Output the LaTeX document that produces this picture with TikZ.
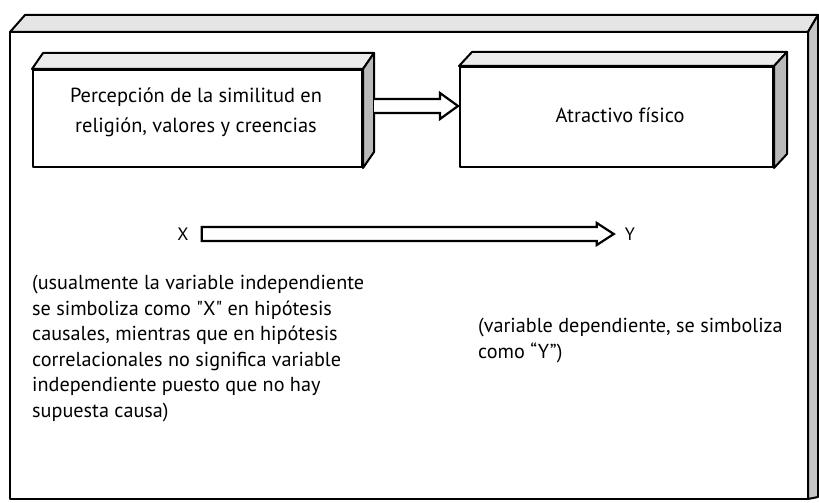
\documentclass[tikz,border=0pt]{standalone}
\usepackage{fontspec}
\setmainfont{PT Sans}
\usetikzlibrary{calc}
\tikzset{
  edge/.style={line width=2pt, line join=round},
  topface/.style={edge, draw, fill=gray!15},
  sideface/.style={edge, draw, fill=gray!55},
  frontbox/.style={edge, draw, fill=white, rectangle, inner sep=0pt},
  boxtext/.style={font=\fontsize{20.4}{30}\selectfont, align=center, inner sep=0pt},
  hollow/.style={line width=2.2pt, line join=miter, fill=white},
  lbl/.style={font=\fontsize{18}{20}\selectfont, inner sep=0pt},
  para/.style={font=\fontsize{20.2}{25.6}\selectfont, align=left, anchor=north west, inner sep=0pt},
}
\begin{document}
\begin{tikzpicture}[x=1pt,y=-1pt]
\useasboundingbox (0,0) rectangle (819,503);
% outer frame
\coordinate (ftl) at (10,32);
\coordinate (ftr) at (808,32);
\coordinate (fbr) at (808,499);
\coordinate (fbl) at (10,499);
\draw[topface, fill=gray!20] (ftl) -- (25,15) -- (818,15) -- (ftr) -- cycle;
\draw[sideface, fill=gray!45] (ftr) -- (818,15) -- (818,497) -- (fbr) -- cycle;
\draw[edge] (ftl) rectangle (fbr);
% box A
\node[frontbox, minimum width=329pt, minimum height=97pt] (A) at (197.5,118.5) {};
\draw[topface] (A.north west) -- ++(11,-16) -- ($(A.north east)+(11,-16)$) -- (A.north east) -- cycle;
\draw[sideface] (A.north east) -- ++(11,-16) -- ($(A.south east)+(11,-16)$) -- (A.south east) -- cycle;
\node[boxtext] (At) at (196,112) {Percepción de la similitud en\\religión, valores y creencias};
% box B
\node[frontbox, minimum width=313pt, minimum height=100pt] (B) at (616.5,117) {};
\draw[topface] (B.north west) -- ++(13,-14) -- ($(B.north east)+(13,-14)$) -- (B.north east) -- cycle;
\draw[sideface] (B.north east) -- ++(13,-14) -- ($(B.south east)+(13,-14)$) -- (B.south east) -- cycle;
\node[boxtext] (Bt) at (620,115) {Atractivo físico};
% arrow A -> B
\coordinate (as) at ($(A.east)+(11,-12.5)$);
\coordinate (at) at (B.west |- as);
\draw[hollow] ($(as)+(0,-7)$) -- ($(at)+(-19,-7)$) -- ($(at)+(-19,-13)$) -- ($(at)+(-1,0)$) -- ($(at)+(-19,13)$) -- ($(at)+(-19,7)$) -- ($(as)+(0,7)$);
% X -> Y
\node[lbl] (X) at (183,234) {X};
\node[lbl] (Y) at (630,234) {Y};
\coordinate (xs) at ($(X.east)+(13,0)$);
\coordinate (yt) at ($(Y.west)+(-11,0)$);
\draw[hollow] ($(xs)+(0,-7)$) -- ($(yt)+(-17,-7)$) -- ($(yt)+(-17,-11)$) -- (yt) -- ($(yt)+(-17,11)$) -- ($(yt)+(-17,7)$) -- ($(xs)+(0,7)$) -- cycle;
% paragraphs
\node[para] (P1) at (32,275) {(usualmente la variable independiente\\se simboliza como \textquotedbl X\textquotedbl{} en hipótesis\\causales, mientras que en hipótesis\\correlacionales no significa variable\\independiente puesto que no hay\\supuesta causa)};
\node[para] (P2) at (478,318) {(variable dependiente, se simboliza\\como “Y”)};
\end{tikzpicture}
\end{document}
